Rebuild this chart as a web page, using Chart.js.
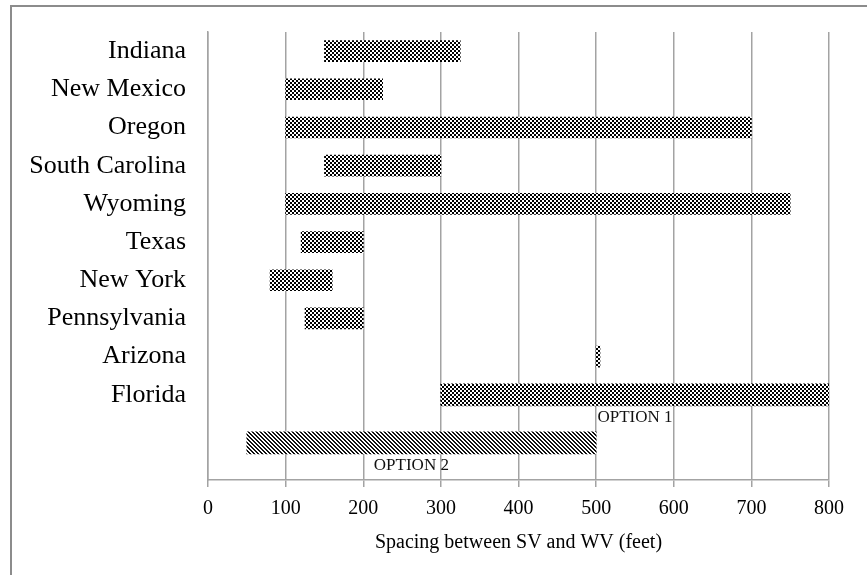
<!DOCTYPE html>
<html>
<head>
<meta charset="utf-8">
<script src="https://cdn.jsdelivr.net/npm/chart.js@4"></script>
<style>
  html, body { margin: 0; padding: 0; background: #fff; overflow: hidden; }
  #frame { position: absolute; left: 10px; top: 5px; width: 900px; height: 600px; border: 2px solid #8c8c8c; }
  #wrap { position: absolute; left: 0; top: 0; width: 867px; height: 575px; }
</style>
</head>
<body>
<div id="frame"></div>
<div id="wrap"><canvas id="grafico" width="867" height="575"></canvas></div>
<script>
// states (top to bottom) and spacing ranges in feet
const states = ["Indiana", "New Mexico", "Oregon", "South Carolina", "Wyoming",
                "Texas", "New York", "Pennsylvania", "Arizona", "Florida"];
const minSpacing = [150, 100, 100, 150, 100, 120, 80, 125, 500, 300];
const maxSpacing = [325, 225, 700, 300, 750, 200, 160, 200, 505, 800];

// the two options (OPTION 1 sits on the Florida row)
const optionNames = ["OPTION 1", "OPTION 2"];
const optionRow = [9, 10.26];
const optionMin = [300, 50];
const optionMax = [800, 500];
const optionLabelAt = [550, 262];

const xTicks = [0, 100, 200, 300, 400, 500, 600, 700, 800];
const xTitle = "Spacing between SV and WV (feet)";

// patterns
function checker(){
  const c = document.createElement("canvas");
  c.width = 4; c.height = 4;
  const g = c.getContext("2d");
  g.fillStyle = "#fff"; g.fillRect(0,0,4,4);
  g.fillStyle = "#000";
  g.fillRect(0,0,2,2); g.fillRect(2,2,2,2);
  return g.createPattern(c, "repeat");
}
function hatch(){
  const c = document.createElement("canvas");
  c.width = 4; c.height = 4;
  const g = c.getContext("2d");
  g.fillStyle = "#fff"; g.fillRect(0,0,4,4);
  g.fillStyle = "#111";
  for(let y=0;y<4;y++){
    for(let x=0;x<4;x++){
      const d = ((x - y) % 4 + 4) % 4;
      if(d===0 || d===1) g.fillRect(x,y,1,1);
    }
  }
  return g.createPattern(c, "repeat");
}
const pCheck = checker();
const pHatch = hatch();

const stateData = states.map((s,i)=>({x:[minSpacing[i], maxSpacing[i]], y:i}));
const optionData = optionNames.map((n,i)=>({x:[optionMin[i], optionMax[i]], y:optionRow[i]}));

const serif = "'Liberation Serif', 'DejaVu Serif', serif";

// option labels under the hatched bars
const optionText = {
  id: "optionText",
  afterDatasetsDraw(chart){
    const {ctx, scales:{x}} = chart;
    const meta = chart.getDatasetMeta(1);
    ctx.save();
    ctx.font = "17px " + serif;
    ctx.fillStyle = "#111";
    ctx.textAlign = "center";
    ctx.textBaseline = "top";
    optionNames.forEach((n,i)=>{
      const bar = meta.data[i];
      const bottom = bar.y + bar.height/2;
      ctx.fillText(n, x.getPixelForValue(optionLabelAt[i]), bottom + 3);
    });
    ctx.restore();
  }
};

const grid = "#a3a3a3";
new Chart(document.getElementById("grafico").getContext("2d"), {
  type: "bar",
  data: {
    datasets: [
      {data: stateData, backgroundColor: pCheck, borderWidth: 0, barThickness: 21, grouped: false},
      {data: optionData, backgroundColor: pHatch, borderWidth: 0, barThickness: 22, grouped: false}
    ]
  },
  options: {
    indexAxis: "y",
    responsive: false,
    animation: false,
    layout: {padding: {top: 32, right: 38, bottom: 0, left: 0}},
    plugins: {legend: {display: false}, tooltip: {enabled: false}},
    scales: {
      x: {
        type: "linear", min: 0, max: 800,
        afterBuildTicks: s => { s.ticks = xTicks.map(v=>({value:v})); },
        afterFit: s => { s.height = 95; },
        grid: {color: grid, lineWidth: 1.5, tickLength: 7, drawTicks: true},
        border: {color: grid, width: 1.5},
        ticks: {color: "#000", font: {family: serif, size: 20}, padding: 10, maxRotation: 0},
        title: {display: true, text: xTitle, color: "#000", font: {family: serif, size: 20}, padding: {top: 0, bottom: 20}}
      },
      y: {
        type: "linear", reverse: true, min: -0.5, max: 11.23, offset: false,
        afterBuildTicks: s => { s.ticks = states.map((_,i)=>({value:i})); },
        afterFit: s => { s.width = 208; },
        grid: {display: false, drawTicks: false},
        border: {display: true, color: grid, width: 1.5},
        ticks: {color: "#000", font: {family: serif, size: 26, lineHeight: 0.75}, padding: 22,
                callback: v => states[v] || ""}
      }
    }
  },
  plugins: [optionText]
});
</script>
</body>
</html>
